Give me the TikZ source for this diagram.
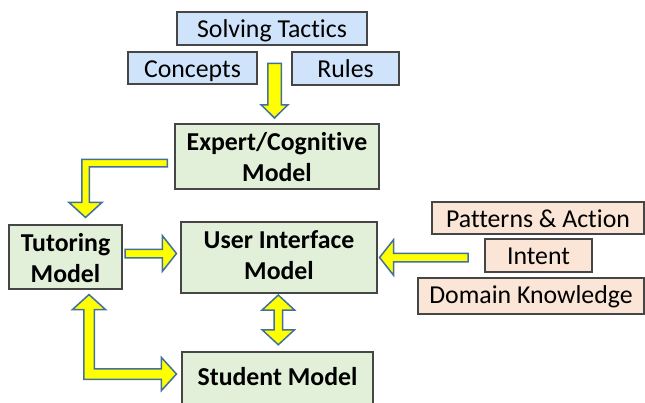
\documentclass[tikz,border=0pt]{standalone}
\usepackage{fontspec}
\setmainfont{Carlito}[Ligatures=NoCommon]
\usetikzlibrary{calc}
\definecolor{bluefill}{RGB}{207,227,250}
\definecolor{greenfill}{RGB}{226,240,217}
\definecolor{peachfill}{RGB}{251,229,214}
\definecolor{boxline}{RGB}{70,70,70}
\definecolor{arrline}{RGB}{65,113,156}
\definecolor{arrfill}{RGB}{255,255,0}
\tikzset{
  box/.style={draw=boxline, line width=1.1pt, inner sep=0pt, align=center,
    font=\fontsize{25.8}{31}\selectfont, text height=18pt, text depth=0pt},
  bluebox/.style={box, fill=bluefill},
  greenbox/.style={box, fill=greenfill, font=\fontsize{25.8}{31}\selectfont\bfseries},
  peachbox/.style={box, fill=peachfill},
  blockarr/.style={draw=arrline, fill=arrfill, line width=1.5pt, line join=miter},
}
% single straight block arrow: start, end, shaft half-width, head half-width, head length
\newcommand\sarrow[5]{%
  \path[blockarr] let \p1=(#1), \p2=(#2),
    \n1={atan2(\y2-\y1,\x2-\x1)}, \n2={veclen(\x2-\x1,\y2-\y1)}, \n3={\n2-#5pt} in
    [shift={(\p1)}, rotate=\n1]
    (0pt,-#3pt) -- (\n3,-#3pt) -- (\n3,-#4pt) -- (\n2,0pt) --
    (\n3,#4pt) -- (\n3,#3pt) -- (0pt,#3pt) -- cycle;}
% double straight block arrow
\newcommand\darrow[5]{%
  \path[blockarr] let \p1=(#1), \p2=(#2),
    \n1={atan2(\y2-\y1,\x2-\x1)}, \n2={veclen(\x2-\x1,\y2-\y1)}, \n3={\n2-#5pt} in
    [shift={(\p1)}, rotate=\n1]
    (0pt,0pt) -- (#5pt,#4pt) -- (#5pt,#3pt) -- (\n3,#3pt) -- (\n3,#4pt) --
    (\n2,0pt) -- (\n3,-#4pt) -- (\n3,-#3pt) -- (#5pt,-#3pt) --
    (#5pt,-#4pt) -- cycle;}
\begin{document}
\begin{tikzpicture}[x=1pt, y=-1pt]
\clip (0,0) rectangle (645,402);
\fill[white] (0,0) rectangle (645,402);

% top blue boxes
\node[bluebox, minimum width=190pt, minimum height=33pt] (tactics) at (272,28.5) {Solving Tactics};
\node[bluebox, minimum width=129pt, minimum height=32pt] (concepts) at (192.5,68) {Concepts};
\node[bluebox, minimum width=107pt, minimum height=33pt] (rules) at (345.5,68.5) {Rules};

% green boxes
\node[greenbox, minimum width=204pt, minimum height=65pt, text height=49pt] (expert) at (277,156.5) {Expert/Cognitive\\Model};
\node[greenbox, minimum width=113pt, minimum height=64pt, text height=50pt] (tutoring) at (65.5,257) {Tutoring\\Model};
\node[greenbox, minimum width=196pt, minimum height=71pt, text height=43pt] (ui) at (279,257.5) {User Interface\\Model};
\node[greenbox, minimum width=191pt, minimum height=52pt, text height=14pt] (student) at (277.5,378) {Student Model};

% peach boxes
\node[peachbox, minimum width=212pt, minimum height=32pt] (patterns) at (538,218) {Patterns \& Action};
\node[peachbox, minimum width=107pt, minimum height=33pt, text height=17pt] (intent) at (538.5,255.5) {Intent};
\node[peachbox, minimum width=226pt, minimum height=36pt, text height=15pt] (domain) at (531,296) {Domain Knowledge};

% arrow end points
\coordinate (a1s) at (274.5,63.3);
\coordinate (a1e) at ($(expert.north)+(-2.5,-5.5)$);
\coordinate (a2s) at (125,253.5);
\coordinate (a2e) at ($(ui.west)+(-4,-4)$);
\coordinate (a3s) at (468,257.5);
\coordinate (a3e) at ($(ui.east)+(2,0)$);
\coordinate (a4s) at ($(ui.south)+(-0.7,1.5)$);
\coordinate (a4e) at ($(student.north)+(0.8,-6.7)$);

% straight arrows
\sarrow{a1s}{a1e}{6.75}{13.25}{13}
\sarrow{a2s}{a2e}{4.25}{17.75}{14}
\sarrow{a3s}{a3e}{4.25}{17.75}{14}
\darrow{a4s}{a4e}{4.25}{16.25}{15}

% elbow arrow: expert -> tutoring
\coordinate (e1s) at ($(expert.west)+(-7,6.5)$);
\coordinate (e1c) at (85.5,163);
\coordinate (e1t) at ($(tutoring.north)+(20,-7)$);
\path[blockarr] let \p1=(e1s), \p2=(e1c), \p3=(e1t) in
  (\x1,{\y1+3.75pt}) -- ({\x2-3.75pt},{\y1+3.75pt}) -- ({\x2-3.75pt},{\y3+15pt}) --
  ({\x2-16.5pt},{\y3+15pt}) -- (\x2,\y3) -- ({\x2+16.5pt},{\y3+15pt}) --
  ({\x2+3.75pt},{\y3+15pt}) -- ({\x2+3.75pt},{\y1-3.75pt}) -- (\x1,{\y1-3.75pt}) -- cycle;

% elbow double arrow: tutoring <-> student
\coordinate (e2t) at ($(tutoring.south)+(23.5,5)$);
\coordinate (e2c) at (89,374);
\coordinate (e2e) at ($(student.west)+(-5,-4)$);
\path[blockarr] let \p1=(e2t), \p2=(e2c), \p3=(e2e) in
  (\x1,\y1) -- ({\x1+16.5pt},{\y1-15pt}) -- ({\x1+5.25pt},{\y1-15pt}) --
  ({\x1+5.25pt},{\y2+5.25pt}) -- ({\x3-15pt},{\y2+5.25pt}) -- ({\x3-15pt},{\y2+16.5pt}) --
  (\x3,\y2) -- ({\x3-15pt},{\y2-16.5pt}) -- ({\x3-15pt},{\y2-5.25pt}) --
  ({\x1-5.25pt},{\y2-5.25pt}) -- ({\x1-5.25pt},{\y1-15pt}) -- ({\x1-16.5pt},{\y1-15pt}) -- cycle;
\end{tikzpicture}
\end{document}
